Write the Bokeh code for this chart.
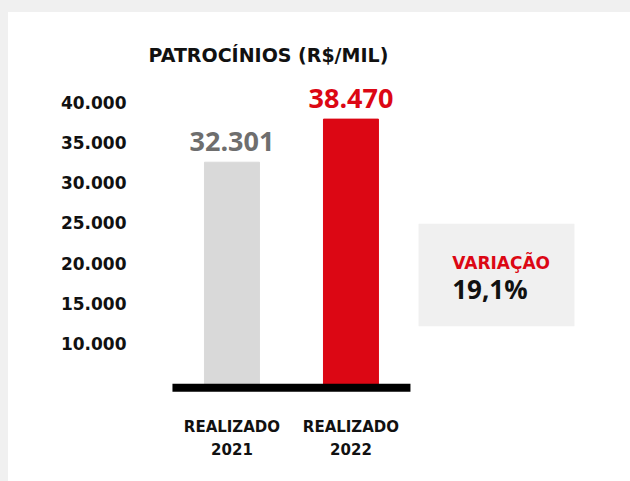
from bokeh.plotting import figure
from bokeh.models import (ColumnDataSource, Range1d, LinearAxis, FixedTicker,
                          BoxAnnotation, Label, Title)
from bokeh.embed import file_html
from bokeh.resources import INLINE

# ---- data ----
categories = ["REALIZADO\n2021", "REALIZADO\n2022"]
values = [32301, 38470]
bar_colors = ["#d9d9d9", "#dc0714"]
label_colors = ["#6e6e6e", "#dc0714"]
tick_values = [10000, 15000, 20000, 25000, 30000, 35000, 40000]
tick_labels = ["10.000", "15.000", "20.000", "25.000", "30.000", "35.000", "40.000"]
title_text = "PATROCÍNIOS (R$/MIL)"
variation_title = "VARIAÇÃO"

RED = "#dc0714"
BOX = "#f0f0f0"
F1 = "DejaVu Sans"
F2 = "Open Sans"

x_pos = [i + 0.5 for i in range(len(categories))]
value_text = [f"{v:,}".replace(",", ".") for v in values]
variation = (values[1] / values[0] - 1) * 100
variation_text = f"{variation:.1f}%".replace(".", ",")

src = ColumnDataSource(dict(x=x_pos, top=values, color=bar_colors,
                            label=value_text, lcolor=label_colors))

p = figure(width=622, height=469, output_backend="svg", toolbar_location=None,
           x_range=Range1d(-0.319, 3.597), y_range=Range1d(-1100, 44000),
           y_axis_location=None, min_border_left=126, min_border_right=30,
           min_border_top=68, min_border_bottom=86)
p.border_fill_color = "white"
p.background_fill_color = "white"
p.outline_line_color = None
p.grid.visible = False

p.add_layout(Title(text=title_text, align="left", offset=14, standoff=30,
                   text_font=F1, text_font_style="bold", text_font_size="19px",
                   text_color="#111111"), "above")

# decorative tick axis on its own range
p.extra_y_ranges = {"ticks": Range1d(3535, 42698)}
yax = LinearAxis(y_range_name="ticks", ticker=FixedTicker(ticks=tick_values),
                 major_label_overrides={v: t for v, t in zip(tick_values, tick_labels)})
yax.axis_line_color = None
yax.major_tick_line_color = None
yax.minor_tick_line_color = None
yax.major_tick_out = 0
yax.major_tick_in = 0
yax.major_label_standoff = 8
yax.major_label_text_font = F1
yax.major_label_text_font_style = "bold"
yax.major_label_text_font_size = "17px"
yax.major_label_text_color = "#111111"
p.add_layout(yax, "left")

xax = p.xaxis[0]
xax.ticker = FixedTicker(ticks=x_pos)
xax.major_label_overrides = {x: c for x, c in zip(x_pos, categories)}
xax.axis_line_color = None
xax.major_tick_line_color = None
xax.minor_tick_line_color = None
xax.major_tick_out = 0
xax.major_tick_in = 0
xax.major_label_standoff = 22
xax.major_label_text_font = F1
xax.major_label_text_font_style = "bold"
xax.major_label_text_font_size = "15px"
xax.major_label_text_line_height = 1.3
xax.major_label_text_color = "#111111"
xax.major_label_text_align = "center"

p.vbar(x="x", top="top", bottom=0, width=0.462, color="color", source=src)
p.segment(x0=[0], y0=[0], x1=[len(categories)], y1=[0], line_color="black",
          line_width=8, line_cap="butt")
p.text(x="x", y="top", text="label", text_color="lcolor", source=src,
       text_align="center", text_baseline="alphabetic", y_offset=-21,
       text_font={"value": F2}, text_font_style="bold", text_font_size="27px")

p.add_layout(BoxAnnotation(left=2.068, right=3.378, bottom=8820, top=23482,
                           fill_color=BOX, fill_alpha=1, line_color=None))
p.add_layout(Label(x=2.351, y=17900, text=variation_title, text_color=RED,
                   text_font=F1, text_font_style="bold", text_font_size="17px",
                   text_align="left", text_baseline="alphabetic"))
p.add_layout(Label(x=2.351, y=14120, text=variation_text, text_color="#111111",
                   text_font=F2, text_font_style="bold", text_font_size="26px",
                   text_align="left", text_baseline="alphabetic"))

html = file_html(p, INLINE, title="Patrocínios")
html = html.replace("</head>",
                    "<style>body{background:#ffffff !important;"
                    "border-top:12px solid #f0f0f0;"
                    "border-left:8px solid #f0f0f0}</style></head>")
open("out.html", "w").write(html)
